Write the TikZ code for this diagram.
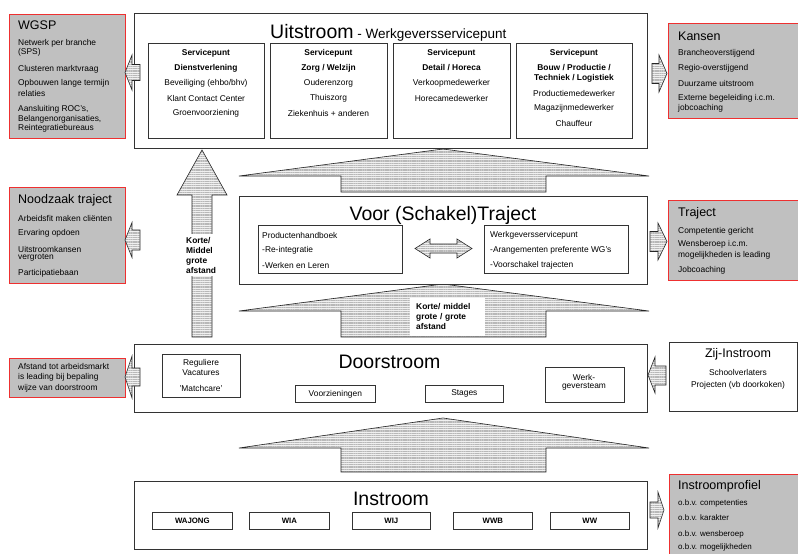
\documentclass[tikz,border=0pt]{standalone}
\usepackage{fontspec}
\setmainfont{Liberation Sans}
\usetikzlibrary{patterns.meta}
\definecolor{sidegray}{RGB}{192,192,192}
\definecolor{sidered}{RGB}{238,48,48}
\begin{document}
\begin{tikzpicture}[x=1pt,y=-1pt,
  box/.style={draw=black!80,line width=0.7pt,fill=white,anchor=north west,inner sep=0pt},
  side/.style={draw=sidered,line width=1pt,fill=sidegray,anchor=north west,inner sep=0pt},
  hatch/.style={draw=black!85,line width=0.6pt,preaction={fill=black!6},pattern={Lines[angle=0,distance=1.8pt,line width=0.55pt]},pattern color=black!28},
  sm/.style={font=\fontsize{8.4}{10}\selectfont,inner sep=0pt},
  smb/.style={font=\bfseries\fontsize{8.4}{10}\selectfont,inner sep=0pt},
  stitle/.style={font=\fontsize{12.5}{14}\selectfont,inner sep=0pt,anchor=west},
  btitle/.style={font=\fontsize{19.5}{22}\selectfont,inner sep=0pt,anchor=base},
]
\useasboundingbox (0,0) rectangle (798,554);
\fill[white] (0,0) rectangle (798,554);
\clip (0,0) rectangle (798,554);

% ---------- block arrows (drawn first, boxes on top) ----------
% big upward arrows
\draw[hatch] (443,149) -- (649,176) -- (546,176) -- (546,192) -- (341,192) -- (341,176) -- (239,176) -- cycle;
\draw[hatch] (443,284) -- (649,311) -- (546,311) -- (546,337) -- (341,337) -- (341,311) -- (239,311) -- cycle;
\draw[hatch] (443,418) -- (649,448) -- (546,448) -- (546,472) -- (341,472) -- (341,448) -- (239,448) -- cycle;
% vertical arrow Doorstroom -> Uitstroom
\draw[hatch] (202,150) -- (227,195) -- (212,195) -- (212,337) -- (192,337) -- (192,195) -- (177,195) -- cycle;

% ---------- main boxes ----------
\node[box,minimum width=513pt,minimum height=135pt] (uit) at (134,13) {};
\node[box,minimum width=408pt,minimum height=88pt] (voor) at (239,196) {};
\node[box,minimum width=513pt,minimum height=68pt] (door) at (134,344) {};
\node[box,minimum width=513pt,minimum height=68pt] (in) at (134,481) {};
\node[box,minimum width=128pt,minimum height=69pt] (zij) at (669,342) {};

% side boxes
\node[side,minimum width=116pt,minimum height=124pt] (wgsp) at (9,14) {};
\node[side,minimum width=135pt,minimum height=95pt] (kans) at (668,23) {};
\node[side,minimum width=116pt,minimum height=96pt] (nood) at (9,187) {};
\node[side,minimum width=135pt,minimum height=80pt] (traj) at (668,200) {};
\node[side,minimum width=116pt,minimum height=39pt] (afst) at (9,358) {};
\node[side,minimum width=135pt,minimum height=90pt] (inpr) at (669,474) {};

% small side arrows
\draw[hatch] (125,72.5) -- (132,55) -- (132,64.5) -- (140,64.5) -- (140,80.5) -- (132,80.5) -- (132,90) -- cycle;
\draw[hatch] (125,240) -- (132,222.5) -- (132,230) -- (140,230) -- (140,250) -- (132,250) -- (132,257.5) -- cycle;
\draw[hatch] (125,377) -- (132,356) -- (132,368) -- (140,368) -- (140,386) -- (132,386) -- (132,398) -- cycle;
\draw[hatch] (648,375) -- (655,357) -- (655,366) -- (666,366) -- (666,385) -- (655,385) -- (655,393) -- cycle;
\draw[hatch] (667,73.5) -- (659,55) -- (659,63.5) -- (652,63.5) -- (652,83.5) -- (659,83.5) -- (659,92) -- cycle;
\draw[hatch] (667,241.5) -- (658,223) -- (658,231.5) -- (650,231.5) -- (650,251.5) -- (658,251.5) -- (658,260) -- cycle;
\draw[hatch] (664,510) -- (658,492) -- (658,502) -- (650,502) -- (650,518) -- (658,518) -- (658,528) -- cycle;

% ---------- Uitstroom ----------
\node[inner sep=0pt,anchor=base west] (uittitle) at (270,38) {{\fontsize{19.5}{22}\selectfont Uitstroom}{\fontsize{13.5}{16}\selectfont\ - Werkgeversservicepunt}};
\node[box,minimum width=116pt,minimum height=95pt] (u1) at (148,43) {};
\node[box,minimum width=117pt,minimum height=95pt] (u2) at (270,43) {};
\node[box,minimum width=117pt,minimum height=95pt] (u3) at (393,43) {};
\node[box,minimum width=116pt,minimum height=95pt] (u4) at (516,43) {};
\foreach \cx/\k in {206/a,328.5/b,451.5/c,574/d}
  \node[smb] (sp\k) at (\cx,53) {Servicepunt};
\node[smb] (u1h) at (206,68) {Dienstverlening};
\node[sm] (u1a) at (206,83) {Beveiliging (ehbo/bhv)};
\node[sm] (u1b) at (206,98) {Klant Contact Center};
\node[sm] (u1c) at (206,113) {Groenvoorziening};
\node[smb] (u2h) at (328.5,68) {Zorg / Welzijn};
\node[sm] (u2a) at (328.5,83) {Ouderenzorg};
\node[sm] (u2b) at (328.5,98) {Thuiszorg};
\node[sm] (u2c) at (328.5,113) {Ziekenhuis + anderen};
\node[smb] (u3h) at (451.5,68) {Detail / Horeca};
\node[sm] (u3a) at (451.5,83) {Verkoopmedewerker};
\node[sm] (u3b) at (451.5,98) {Horecamedewerker};
\node[smb] (u4h) at (574,68) {Bouw / Productie /};
\node[smb] (u4i) at (574,78) {Techniek / Logistiek};
\node[sm] (u4a) at (574,93) {Productiemedewerker};
\node[sm] (u4b) at (574,108) {Magazijnmedewerker};
\node[sm] (u4c) at (574,123) {Chauffeur};

% ---------- Voor (Schakel)Traject ----------
\node[btitle] (voortitle) at (443,220) {Voor (Schakel)Traject};
\node[box,minimum width=144pt,minimum height=48pt] (v1) at (258,225) {};
\node[box,minimum width=144pt,minimum height=48pt] (v2) at (484,225) {};
\node[sm,anchor=west] (v1a) at (262,235) {Productenhandboek};
\node[sm,anchor=west] (v1b) at (262,250) {-Re-integratie};
\node[sm,anchor=west] (v1c) at (262,265) {-Werken en Leren};
\node[sm,anchor=west] (v2a) at (490,235) {Werkgeversservicepunt};
\node[sm,anchor=west] (v2b) at (490,250) {-Arangementen preferente WG's};
\node[sm,anchor=west] (v2c) at (490,265) {-Voorschakel trajecten};
\draw[hatch] (415,248.5) -- (430,239) -- (430,244) -- (457,244) -- (457,239) -- (472,248.5) -- (457,258) -- (457,253) -- (430,253) -- (430,258) -- cycle;

% ---------- Doorstroom ----------
\node[btitle] (doortitle) at (389.5,368) {Doorstroom};
\node[box,minimum width=78pt,minimum height=43pt] (d1) at (162,354) {};
\node[sm] (d1a) at (201,363) {Reguliere};
\node[sm] (d1b) at (201,373) {Vacatures};
\node[sm] (d1c) at (201,388) {'Matchcare'};
\node[box,minimum width=80pt,minimum height=17pt] (d2) at (295,385) {};
\node[sm] (d2a) at (d2.center) {Voorzieningen};
\node[box,minimum width=78pt,minimum height=17pt] (d3) at (425,385) {};
\node[sm] (d3a) at (d3.center) {Stages};
\node[box,minimum width=79.5pt,minimum height=35pt] (d4) at (544.5,367) {};
\node[sm] (d4a) at (584,377) {Werk-};
\node[sm] (d4b) at (584,387) {geversteam};

% ---------- Zij-Instroom ----------
\node[font=\fontsize{12.5}{14}\selectfont,inner sep=0pt] (zijt) at (738,354) {Zij-Instroom};
\node[sm] (zija) at (738,372) {Schoolverlaters};
\node[sm] (zijb) at (738,385) {Projecten (vb doorkoken)};

% ---------- Instroom ----------
\node[btitle] (intitle) at (391,505) {Instroom};
\foreach \x/\w/\txt/\k in {152/80/WAJONG/a,249/80/WIA/b,352/78/WIJ/c,453/79/WWB/d,550/79/WW/e}{
  \node[box,minimum width=\w pt,minimum height=17pt] (i\k) at (\x,512) {};
  \node[smb,font=\bfseries\fontsize{7.8}{9}\selectfont] (i\k t) at (i\k.center) {\txt};
}

% ---------- arrow labels ----------
\node[smb,fill=white,align=left,anchor=north west,inner ysep=3pt,inner xsep=0pt] (lab1) at (186,234) {Korte/\\Middel\\grote\\afstand};
\node[smb,fill=white,align=left,anchor=north west,inner xsep=6pt,inner ysep=0pt,minimum height=38pt,text width=63pt] (lab2) at (410,297.5) {Korte/ middel\\grote / grote\\afstand};

% ---------- side box texts ----------
\node[stitle] (wgspt) at (18,25) {WGSP};
\foreach \y/\txt in {43/Netwerk per branche, 52/(SPS), 69/Clusteren marktvraag, 83/Opbouwen lange termijn, 93/relaties, 109/{Aansluiting ROC's,}, 119/{Belangenorganisaties,}, 128/Reintegratiebureaus}
  \node[sm,anchor=west] (wg\y) at (18,\y) {\txt};

\node[stitle] (kanst) at (678,36) {Kansen};
\foreach \y/\txt in {53/Brancheoverstijgend, 68/Regio-overstijgend, 83/Duurzame uitstroom, 98/Externe begeleiding i.c.m., 108/jobcoaching}
  \node[sm,anchor=west] (ka\y) at (678,\y) {\txt};

\node[stitle] (noodt) at (18,200) {Noodzaak traject};
\foreach \y/\txt in {218/Arbeidsfit maken cliënten, 233/Ervaring opdoen, 249/Uitstroomkansen, 258/vergroten, 273/Participatiebaan}
  \node[sm,anchor=west] (no\y) at (18,\y) {\txt};

\node[stitle] (trajt) at (678,213) {Traject};
\foreach \y/\txt in {231/Competentie gericht, 244/Wensberoep i.c.m., 255/mogelijkheden is leading, 270/Jobcoaching}
  \node[sm,anchor=west] (tr\y) at (678,\y) {\txt};

\foreach \y/\txt in {366/Afstand tot arbeidsmarkt, 377/is leading bij bepaling, 388/wijze van doorstroom}
  \node[sm,anchor=west] (af\y) at (18,\y) {\txt};

\node[stitle] (inprt) at (678,486) {Instroomprofiel};
\foreach \y/\txt in {503/o.b.v. competenties, 518/o.b.v. karakter, 534/o.b.v. wensberoep, 547/o.b.v. mogelijkheden}
  \node[sm,anchor=west,font=\fontsize{8}{10}\selectfont] (ip\y) at (678,\y) {\txt};
\end{tikzpicture}
\end{document}
